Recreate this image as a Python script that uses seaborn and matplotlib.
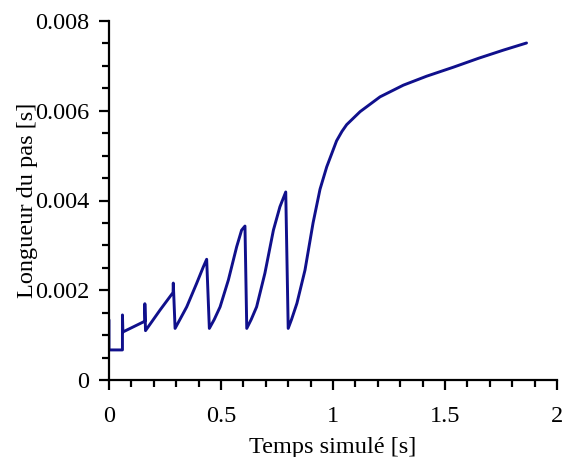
import matplotlib
matplotlib.use("Agg")
import matplotlib.pyplot as plt
import seaborn as sns
import pandas as pd
from matplotlib.ticker import MultipleLocator, FixedLocator

# Data (time in s, step length in s)
temps = [0.0, 0.0, 0.06, 0.06, 0.062, 0.16, 0.16, 0.163, 0.228, 0.286, 0.287,
         0.295, 0.32, 0.347, 0.391, 0.421, 0.436,
         0.448, 0.47, 0.496, 0.533, 0.570, 0.592, 0.607,
         0.615, 0.635, 0.659, 0.696, 0.734, 0.763, 0.789,
         0.800, 0.815, 0.839, 0.875, 0.911, 0.942, 0.972, 1.016, 1.04, 1.061, 1.121,
         1.21, 1.314, 1.418, 1.537, 1.65, 1.76, 1.864]
longueur = [0.00134, 0.00067, 0.00067, 0.00145, 0.00107, 0.00131, 0.00170, 0.00110,
            0.00156, 0.00195, 0.00216,
            0.00115, 0.00138, 0.00163, 0.00215, 0.00252, 0.00269,
            0.00115, 0.00135, 0.00163, 0.00223, 0.00297, 0.00334, 0.00343,
            0.00115, 0.00135, 0.00163, 0.00238, 0.00334, 0.00386, 0.00419,
            0.00115, 0.00135, 0.00171, 0.00245, 0.00350, 0.00425, 0.00475,
            0.00533, 0.00554, 0.00569, 0.00598, 0.00631, 0.00657, 0.00677, 0.00697,
            0.00717, 0.00735, 0.00751]
xticks = [0, 0.5, 1, 1.5, 2]
xtick_labels = ["0", "0.5", "1", "1.5", "2"]
yticks = [0, 0.002, 0.004, 0.006, 0.008]
ytick_labels = ["0", "0.002", "0.004", "0.006", "0.008"]

df = pd.DataFrame({"t": temps, "h": longueur})

sns.set_style("ticks")
plt.rcParams["font.family"] = ["Liberation Serif", "DejaVu Serif"]

fig = plt.figure(figsize=(5.71, 4.57), dpi=100)
ax = fig.add_axes([109/571, 1-380/457, 448/571, 359/457])

sns.lineplot(data=df, x="t", y="h", sort=False, estimator=None, ax=ax,
             color="#10108c", linewidth=2.1)

ax.set_xlim(0, 2)
ax.set_ylim(0, 0.008)
ax.xaxis.set_major_locator(FixedLocator(xticks))
ax.set_xticklabels(xtick_labels)
ax.xaxis.set_minor_locator(MultipleLocator(0.1))
ax.yaxis.set_major_locator(FixedLocator(yticks))
ax.set_yticklabels(ytick_labels)
ax.yaxis.set_minor_locator(MultipleLocator(0.0005))

for s in ["top", "right"]:
    ax.spines[s].set_visible(False)
for s in ["left", "bottom"]:
    ax.spines[s].set_linewidth(1.6)
    ax.spines[s].set_color("black")

ax.tick_params(axis="both", which="major", length=7, width=1.6, color="black",
               labelsize=17.5, labelcolor="black")
ax.tick_params(axis="both", which="minor", length=5, width=1.6, color="black")
ax.tick_params(axis="y", which="major", pad=7)
ax.tick_params(axis="x", which="major", pad=12)

ax.set_xlabel("Temps simulé [s]", fontsize=17.5, color="black")
ax.set_ylabel("Longueur du pas [s]", fontsize=17.5, color="black")
ax.yaxis.set_label_coords(-0.158, 0.5)
ax.xaxis.set_label_coords(0.5, -0.158)
ax.grid(False)

fig.savefig("out.png", dpi=100)
